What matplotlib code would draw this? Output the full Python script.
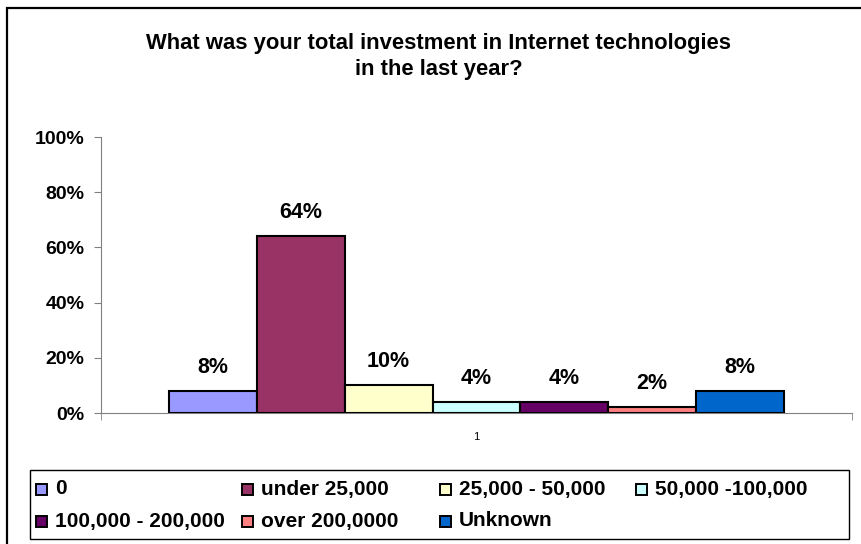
import matplotlib
matplotlib.use('Agg')
import matplotlib.pyplot as plt
from matplotlib.patches import Rectangle
from matplotlib.ticker import PercentFormatter

plt.rcParams['font.family'] = ['Liberation Sans', 'DejaVu Sans']
plt.rcParams['font.weight'] = 'bold'

# Ответы на вопрос об инвестициях (доли от 1)
categories = ['0', 'under 25,000', '25,000 - 50,000', '50,000 -100,000',
              '100,000 - 200,000', 'over 200,0000', 'Unknown']
shares = [0.08, 0.64, 0.10, 0.04, 0.04, 0.02, 0.08]
colors = ['#9999FF', '#993366', '#FFFFCC', '#CCFFFF', '#660066', '#FF8080', '#0066CC']
x_labels = ['1']

W, H = 861, 544
fig = plt.figure(figsize=(W / 100, H / 100), dpi=100)

def px(x, y):
    # пиксели (от левого верхнего угла) -> координаты фигуры
    return x / W, 1 - y / H

# рамка всей диаграммы
fig.patches.append(Rectangle((7 / W, -0.1), 1.2, 1.1 - 8.5 / H, transform=fig.transFigure,
                             fill=False, edgecolor='black', linewidth=1.6))

fig.text(*px(439, 43), 'What was your total investment in Internet technologies',
         ha='center', va='center', fontsize=15.8, fontweight='bold')
fig.text(*px(439, 70), 'in the last year?',
         ha='center', va='center', fontsize=15.8, fontweight='bold')

ax = fig.add_axes([101 / W, 1 - 413 / H, (852 - 101) / W, (413 - 137) / H])

bar_w = 0.117
handles = []
for i, (name, val, col) in enumerate(zip(categories, shares, colors)):
    xpos = 1 + (i - 3) * bar_w
    b = ax.bar(xpos, val, width=bar_w, color=col, edgecolor='black', linewidth=1.5,
               label=name, zorder=3)
    handles.append(b)
    ax.annotate(f'{val:.0%}', (xpos, val), xytext=(0, 17), textcoords='offset points',
                ha='center', va='center', fontsize=15.5, fontweight='bold')

ax.set_xlim(0.5, 1.5)
ax.set_ylim(0, 1)
ax.yaxis.set_major_formatter(PercentFormatter(1.0, decimals=0))
ax.set_yticks([0, 0.2, 0.4, 0.6, 0.8, 1.0])
ax.set_xticks([1])
ax.set_xticklabels(x_labels, fontsize=8, fontweight='normal')
ax.set_xticks([0.5, 1.5], minor=True)
ax.tick_params(axis='x', which='major', length=0, pad=14)
ax.tick_params(axis='x', which='minor', length=5, color='#808080', direction='out')
ax.tick_params(axis='y', length=5, color='#808080', labelsize=14, pad=7)
for lbl in ax.get_yticklabels():
    lbl.set_fontweight('bold')

for side in ['top', 'right']:
    ax.spines[side].set_visible(False)
ax.spines['left'].set_color('#808080')
ax.spines['bottom'].set_color('#808080')

# легенда: рамка и 4 колонки одинаковой ширины, заполнение по строкам
fig.patches.append(Rectangle(px(30, 539), (849 - 30) / W, 69 / H, transform=fig.transFigure,
                             fill=False, edgecolor='black', linewidth=1.0))
col_x = [36, 242, 440, 636]
row_y = [489, 521]
box = 11
for k, (name, col) in enumerate(zip(categories, colors)):
    cx = col_x[k % 4]
    cy = row_y[k // 4]
    fig.patches.append(Rectangle(px(cx, cy + box / 2), box / W, box / H,
                                 transform=fig.transFigure, facecolor=col,
                                 edgecolor='black', linewidth=1.4))
    fig.text(*px(cx + box + 8, cy), name, ha='left', va='center',
             fontsize=15, fontweight='bold')

fig.savefig('out.png', dpi=100)
